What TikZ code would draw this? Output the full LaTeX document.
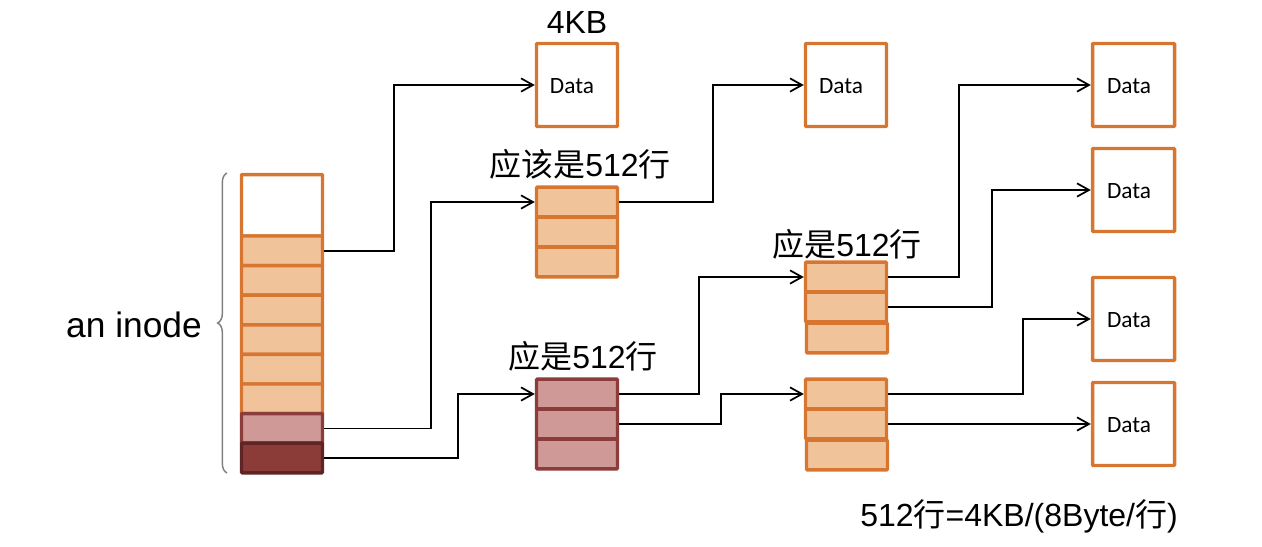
\documentclass[tikz,border=0pt]{standalone}
\usepackage{fontspec}
\setmainfont{Liberation Sans}
\newfontfamily\cjk{Noto Sans CJK SC}
\newfontfamily\calibri{Carlito}
\usetikzlibrary{arrows.meta,decorations.pathreplacing}
\definecolor{ob}{RGB}{215,118,49}
\definecolor{of}{RGB}{241,195,155}
\definecolor{pf}{RGB}{207,153,151}
\definecolor{pb}{RGB}{140,60,58}
\definecolor{df}{RGB}{139,60,57}
\definecolor{db}{RGB}{95,37,36}
\tikzset{
  cell/.style={draw=ob,fill=of,line width=2.6pt,minimum width=60.75pt,minimum height=22.2pt,inner sep=0pt,rounded corners=0.6pt},
  pcell/.style={cell,draw=pb,fill=pf},
  dcell/.style={cell,draw=db,fill=df},
  databox/.style={draw=ob,fill=white,line width=2.6pt,minimum width=60.75pt,minimum height=62.25pt,inner sep=0pt,rounded corners=0.6pt},
  datatext/.style={font=\calibri\fontsize{17.5pt}{20pt}\selectfont,inner sep=0pt},
  conn/.style={line width=1.3pt,-{Straight Barb[length=9pt,width=10pt]}},
  lab/.style={font=\fontsize{24pt}{28pt}\selectfont,inner sep=0pt}
}
\begin{document}
\begin{tikzpicture}[x=0.75pt,y=-0.75pt]
\useasboundingbox (0,0) rectangle (1262,546);
% inode
\node[cell,fill=white,minimum height=46.1pt] (i0) at (282,205.3) {};
\node[cell] (i1) at (282,250.8) {};
\node[cell] (i2) at (282,280.4) {};
\node[cell] (i3) at (282,310.0) {};
\node[cell] (i4) at (282,339.6) {};
\node[cell] (i5) at (282,369.2) {};
\node[cell] (i6) at (282,398.8) {};
\node[pcell] (i7) at (282,428.4) {};
\node[dcell] (i8) at (282,458.0) {};
\coordinate (bb) at (227,473);
\coordinate (bt) at (227,173);
\draw[gray,line width=1.1pt,decorate,decoration={brace,amplitude=7pt}] (bb) -- (bt);
\node[font=\fontsize{26.5pt}{30pt}\selectfont,inner sep=0pt] (inl) at (134,325) {an inode};
% data boxes
\node[databox] (d1) at (577,85) {};
\node[databox] (d2) at (846,85) {};
\node[databox,minimum width=61.5pt] (d3) at (1133.5,85) {};
\node[databox,minimum width=61.5pt] (d4) at (1133.5,190) {};
\node[databox,minimum width=61.5pt] (d5) at (1133.5,319) {};
\node[databox,minimum width=61.5pt] (d6) at (1133.5,424) {};
\node[datatext] (t1) at (572,86) {Data};
\node[datatext] (t2) at (841,86) {Data};
\node[datatext] (t3) at (1129,86) {Data};
\node[datatext] (t4) at (1129,191) {Data};
\node[datatext] (t5) at (1129,320) {Data};
\node[datatext] (t6) at (1129,425) {Data};
\node[lab] (kb) at (577,22) {4KB};
% box A
\node[cell] (a1) at (577,202) {};
\node[cell] (a2) at (577,232) {};
\node[cell] (a3) at (577,262) {};
\node[lab] (la) at (580,164) {{\cjk 应该是}512{\cjk 行}};
% box B
\node[pcell] (b1) at (577,394) {};
\node[pcell] (b2) at (577,424) {};
\node[pcell] (b3) at (577,454) {};
\node[lab] (lb) at (583,356) {{\cjk 应是}512{\cjk 行}};
% box C
\node[cell] (c1) at (846,277) {};
\node[cell] (c2) at (846,307) {};
\node[cell] (c3) at (847,338) {};
\node[lab] (lc) at (847,244) {{\cjk 应是}512{\cjk 行}};
% box D
\node[cell] (e1) at (846,394) {};
\node[cell] (e2) at (846,424) {};
\node[cell] (e3) at (847,455) {};
% formula
\node[lab] (fm) at (1019,516) {512{\cjk 行}=4KB/(8Byte/{\cjk 行})};
% connectors
\draw[conn] (i1.east) -- ++(70,0) |- (d1.west);
\draw[conn] (i7.east) -- ++(107,0) |- (a1.west);
\draw[conn] (i8.east) -- ++(134,0) |- (b1.west);
\draw[conn] (a1.east) -- ++(94,0) |- (d2.west);
\draw[conn] (b1.east) -- ++(80,0) |- (c1.west);
\draw[conn] (b2.east) -- ++(102,0) |- (e1.west);
\draw[conn] (c1.east) -- ++(71,0) |- (d3.west);
\draw[conn] (c2.east) -- ++(103.5,0) |- (d4.west);
\draw[conn] (e1.east) -- ++(135,0) |- (d5.west);
\draw[conn] (e2.east) -- (d6.west);
\end{tikzpicture}
\end{document}
